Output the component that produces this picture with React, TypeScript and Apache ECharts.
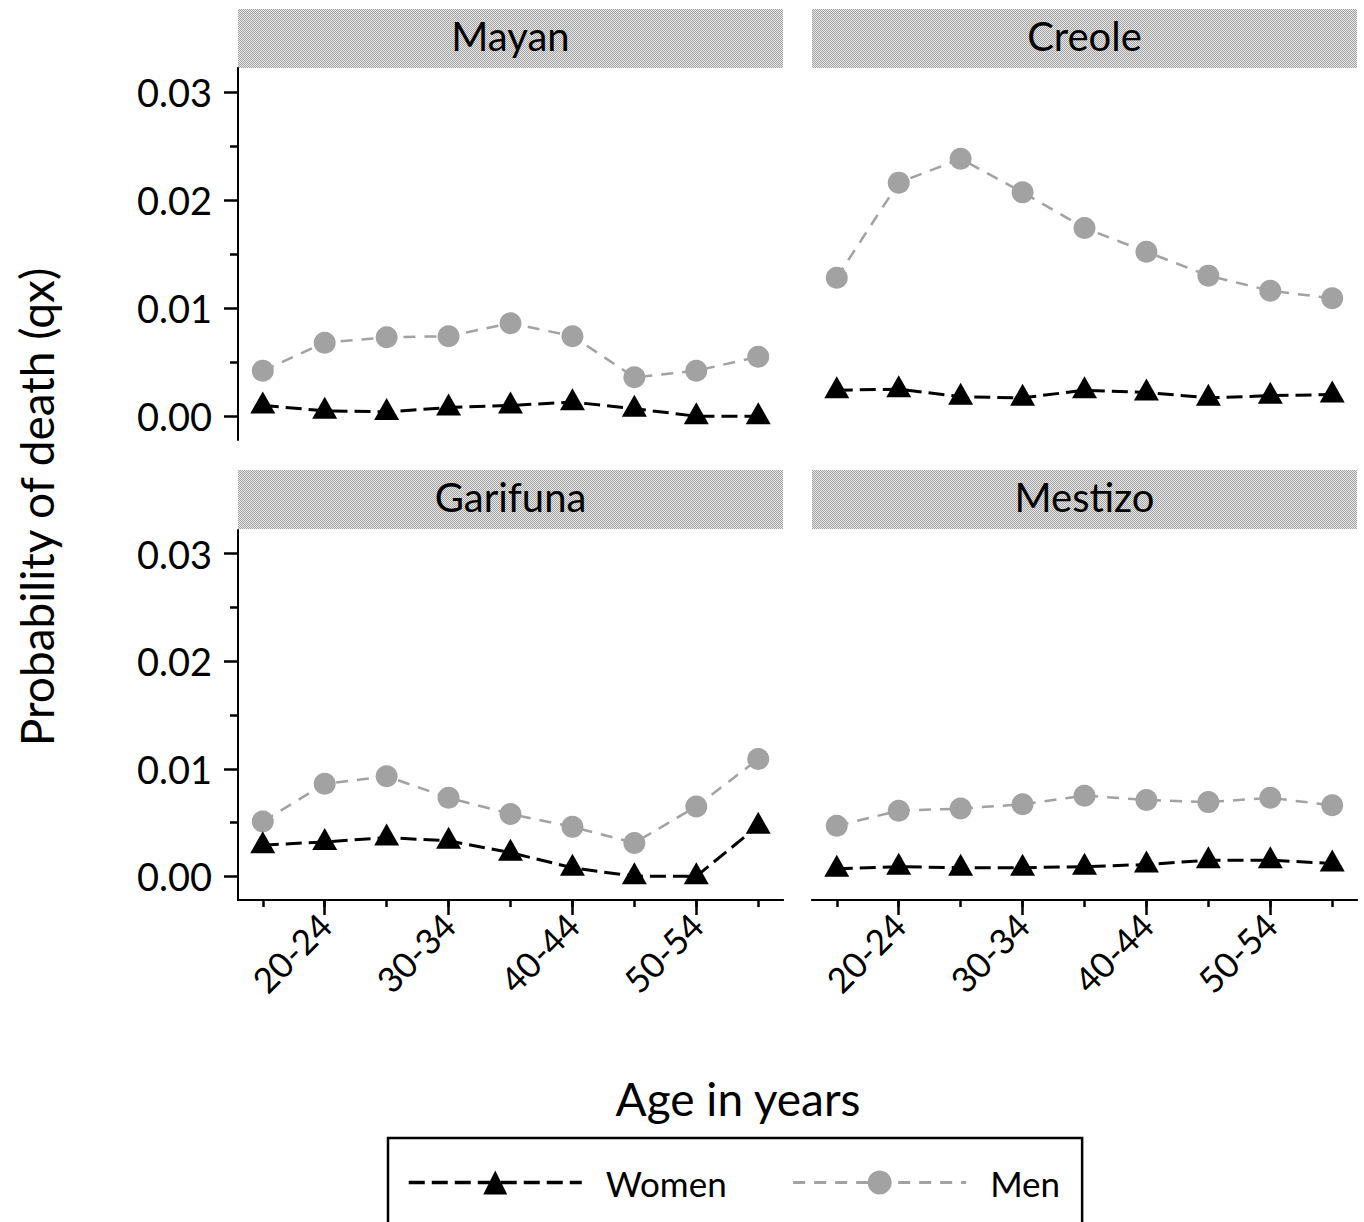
import React, { useEffect, useRef } from "react";
import * as echarts from "echarts";

const categories = ["15-19", "20-24", "25-29", "30-34", "35-39", "40-44", "45-49", "50-54", "55-59"];
const panelNames = ["Mayan", "Creole", "Garifuna", "Mestizo"];
const yTickValues = [0, 0.01, 0.02, 0.03];
const yMinorValues = [0.005, 0.015, 0.025];

const womenMayan = [0.001, 0.0005, 0.0004, 0.0008, 0.001, 0.0013, 0.0007, 0.0, 0.0];
const menMayan = [0.0042, 0.0068, 0.0073, 0.0074, 0.0086, 0.0074, 0.0036, 0.0042, 0.0055];
const womenCreole = [0.0024, 0.0025, 0.0018, 0.0017, 0.0024, 0.0022, 0.0017, 0.0019, 0.002];
const menCreole = [0.0128, 0.0216, 0.0238, 0.0207, 0.0174, 0.0152, 0.013, 0.0116, 0.0109];
const womenGarifuna = [0.0029, 0.0032, 0.0036, 0.0033, 0.0022, 0.0008, 0.0, 0.0, 0.0047];
const menGarifuna = [0.0051, 0.0086, 0.0093, 0.0073, 0.0058, 0.0046, 0.0031, 0.0065, 0.0109];
const womenMestizo = [0.0007, 0.0009, 0.0008, 0.0008, 0.0009, 0.0011, 0.0015, 0.0015, 0.0012];
const menMestizo = [0.0047, 0.0061, 0.0063, 0.0067, 0.0075, 0.0071, 0.0069, 0.0073, 0.0066];

const womenData = [womenMayan, womenCreole, womenGarifuna, womenMestizo];
const menData = [menMayan, menCreole, menGarifuna, menMestizo];

const FONT = "Lato";
const MEN_GRAY = "#a2a2a2";

function makePattern(): any {
  try {
    const c = document.createElement("canvas");
    c.width = 2;
    c.height = 2;
    const ctx = c.getContext("2d");
    if (!ctx) return "#c6c6c6";
    ctx.fillStyle = "#e6e6e6";
    ctx.fillRect(0, 0, 2, 2);
    ctx.fillStyle = "#a4a4a4";
    ctx.fillRect(0, 0, 1, 1);
    ctx.fillRect(1, 1, 1, 1);
    return { image: c, repeat: "repeat" };
  } catch (e) {
    return "#c6c6c6";
  }
}

export default function App() {
  const ref = useRef<HTMLDivElement>(null);

  useEffect(() => {
    if (!ref.current) return;
    const chart = echarts.init(ref.current, undefined, { renderer: "svg" });

    const grids = [
      { left: 238, top: 68, width: 545, height: 372 },
      { left: 812, top: 68, width: 545, height: 372 },
      { left: 238, top: 530, width: 545, height: 370 },
      { left: 812, top: 530, width: 545, height: 370 },
    ];
    const headerTops = [9, 9, 470, 470];
    const headerH = 59;
    const headerFill = makePattern();

    const xAxes: any[] = [];
    const yAxes: any[] = [];
    const series: any[] = [];
    const graphics: any[] = [];

    const allIdx = categories.map((_, i) => i);
    const oddIdx = allIdx.filter((i) => i % 2 === 1);

    grids.forEach((g, gi) => {
      const isBottom = gi >= 2;
      const isLeft = gi % 2 === 0;
      xAxes.push({
        type: "value",
        gridIndex: gi,
        min: -0.4,
        max: 8.4,
        show: isBottom,
        position: "bottom",
        axisLine: { show: true, onZero: false, lineStyle: { color: "#000", width: 2 } },
        axisTick: { show: true, customValues: allIdx, length: 7, lineStyle: { color: "#000", width: 2.5 } },
        axisLabel: { show: false },
        splitLine: { show: false },
      });
      xAxes.push({
        type: "value",
        gridIndex: gi,
        min: -0.4,
        max: 8.4,
        show: isBottom,
        position: "bottom",
        axisLine: { show: true, onZero: false, lineStyle: { color: "#000", width: 2 } },
        axisTick: { show: true, customValues: oddIdx, length: 15, lineStyle: { color: "#000", width: 2.5 } },
        axisLabel: {
          show: true,
          customValues: oddIdx,
          rotate: 45,
          margin: 19,
          fontSize: 35,
          fontFamily: FONT,
          color: "#000",
          formatter: (v: number) => categories[Math.round(v)] ?? "",
        },
        splitLine: { show: false },
      });
      yAxes.push({
        type: "value",
        gridIndex: gi,
        min: -0.0022,
        max: 0.0322,
        show: isLeft,
        position: "left",
        axisLine: { show: true, onZero: false, lineStyle: { color: "#000", width: 2 } },
        axisTick: { show: true, customValues: yTickValues, length: 14, lineStyle: { color: "#000", width: 2.5 } },
        axisLabel: {
          show: true,
          customValues: yTickValues,
          margin: 26,
          fontSize: 38,
          fontFamily: FONT,
          color: "#000",
          formatter: (v: number) => v.toFixed(2),
        },
        splitLine: { show: false },
      });
      yAxes.push({
        type: "value",
        gridIndex: gi,
        min: -0.0022,
        max: 0.0322,
        show: isLeft,
        position: "left",
        axisLine: { show: false, onZero: false },
        axisTick: { show: true, customValues: yMinorValues, length: 8, lineStyle: { color: "#000", width: 2.5 } },
        axisLabel: { show: false },
        splitLine: { show: false },
      });

      series.push({
        name: "Men",
        type: "line",
        xAxisIndex: gi * 2,
        yAxisIndex: gi * 2,
        data: menData[gi].map((v, i) => [i, v]),
        symbol: "circle",
        symbolSize: 22,
        itemStyle: { color: MEN_GRAY },
        lineStyle: { color: MEN_GRAY, width: 2.5, type: [12, 9] },
        z: 2,
      });
      series.push({
        name: "Women",
        type: "line",
        xAxisIndex: gi * 2,
        yAxisIndex: gi * 2,
        data: womenData[gi].map((v, i) => [i, v]),
        symbol: "triangle",
        symbolSize: [25, 22],
        symbolOffset: [0, -3],
        itemStyle: { color: "#000" },
        lineStyle: { color: "#000", width: 3, type: [16, 7] },
        z: 3,
      });

      graphics.push({
        type: "rect",
        shape: { x: g.left, y: headerTops[gi], width: g.width, height: headerH },
        style: { fill: headerFill },
        silent: true,
      });
      graphics.push({
        type: "text",
        x: g.left + g.width / 2,
        y: headerTops[gi] + headerH / 2 - 3,
        style: {
          text: panelNames[gi],
          fontSize: 40,
          fontFamily: FONT,
          fill: "#000",
          align: "center",
          verticalAlign: "middle",
        },
        silent: true,
      });
    });

    graphics.push({
      type: "text",
      x: 36,
      y: 507,
      rotation: Math.PI / 2,
      style: {
        text: "Probability of death (qx)",
        fontSize: 46,
        fontFamily: FONT,
        fill: "#000",
        align: "center",
        verticalAlign: "middle",
      },
    });
    graphics.push({
      type: "text",
      x: 738,
      y: 1098,
      style: {
        text: "Age in years",
        fontSize: 46,
        fontFamily: FONT,
        fill: "#000",
        align: "center",
        verticalAlign: "middle",
      },
    });

    chart.setOption({
      animation: false,
      textStyle: { fontFamily: FONT },
      grid: grids.map((g) => ({ ...g, containLabel: false })),
      xAxis: xAxes,
      yAxis: yAxes,
      series,
      legend: {
        data: [
          {
            name: "Women",
            itemStyle: { color: "#000" },
            lineStyle: { color: "#000", width: 3.5, type: [16, 7] },
          },
          {
            name: "Men",
            itemStyle: { color: MEN_GRAY },
            lineStyle: { color: MEN_GRAY, width: 3, type: [12, 9] },
          },
        ],
        left: 388,
        top: 1138,
        orient: "horizontal",
        itemWidth: 173,
        itemHeight: 30,
        itemGap: 65,
        padding: [27, 22, 40, 19],
        borderColor: "#000",
        borderWidth: 2.5,
        textStyle: { fontSize: 35, fontFamily: FONT, color: "#000", padding: [0, 0, 0, 19] },
        selectedMode: false,
      },
      graphic: graphics,
    });

    return () => chart.dispose();
  }, []);

  return (
    <div
      ref={ref}
      style={{ position: "absolute", left: 0, top: 0, width: 1364, height: 1222, background: "#fff" }}
    />
  );
}
